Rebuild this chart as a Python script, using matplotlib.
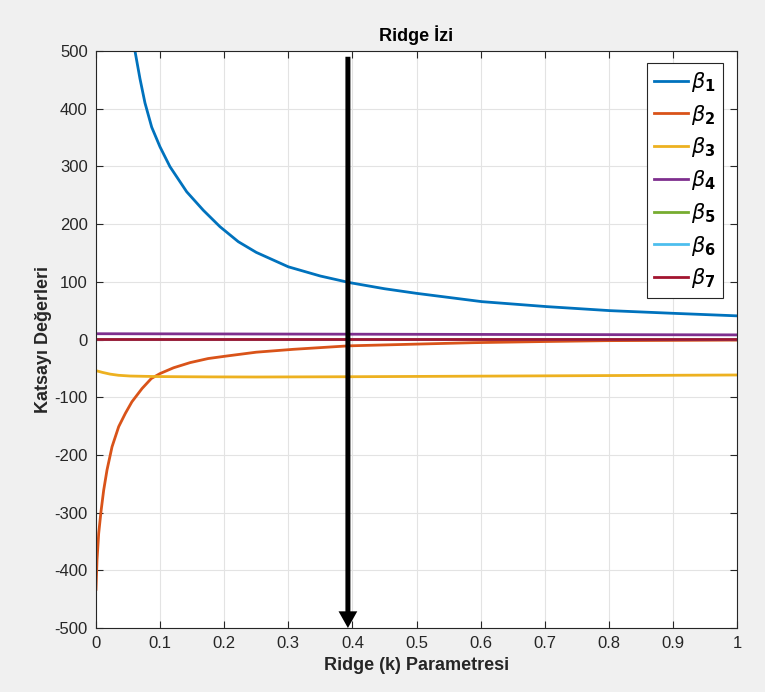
import matplotlib
matplotlib.use("Agg")
import matplotlib.pyplot as plt

plt.rcParams['font.family'] = ['Liberation Sans', 'DejaVu Sans']
plt.rcParams['mathtext.fontset'] = 'dejavusans'
plt.rcParams['axes.unicode_minus'] = False

# Data
k1 = [0.030, 0.040, 0.050, 0.0608, 0.0686, 0.0764, 0.0869, 0.0998, 0.1154, 0.1415, 0.1674,
      0.1934, 0.222, 0.250, 0.300, 0.350, 0.396, 0.450, 0.500, 0.602, 0.703, 0.802, 0.900, 1.000]
beta1 = [1050, 800, 620, 500, 452, 410, 368, 334, 299.5, 256, 224,
         195.5, 169.5, 151, 126, 110, 98.5, 88, 80, 65.6, 57, 50, 45.4, 41]

k2 = [0.000, 0.0016, 0.0042, 0.0078, 0.012, 0.0172, 0.025, 0.0354, 0.0458, 0.056, 0.0718,
      0.0863, 0.100, 0.121, 0.147, 0.175, 0.204, 0.250, 0.308, 0.394, 0.500, 0.589, 0.700,
      0.797, 0.900, 1.000]
beta2 = [-433, -382, -336, -298, -261, -226, -186, -151, -128, -108, -85,
         -67.6, -59, -49, -40, -33, -28.6, -22, -17, -11, -8, -5.5, -3.5,
         -2, -1.5, -1]

k3 = [0.000, 0.010, 0.022, 0.035, 0.053, 0.075, 0.095, 0.130, 0.178, 0.250, 0.400, 0.600, 0.800, 1.000]
beta3 = [-54, -57, -60, -62, -63.3, -63.8, -64.2, -64.5, -64.8, -65, -64.5, -63.5, -62.5, -61.5]

k_flat = [0.0, 0.25, 0.5, 0.75, 1.0]
beta4 = [10, 9.5, 9, 8.5, 8]
beta5 = [0.5, 0.5, 0.5, 0.5, 0.5]
beta6 = [0.8, 0.8, 0.8, 0.8, 0.8]
beta7 = [1, 1, 1, 1, 1]

arrow_k = 0.393
arrow_top = 490

labels = [r'$\beta_{\mathbf{%d}}$' % i for i in range(1, 8)]
colors = ['#0072BD', '#D95319', '#EDB120', '#7E2F8E', '#77AC30', '#4DBEEE', '#A2142F']

fig = plt.figure(figsize=(7.65, 6.92), dpi=100, facecolor='#F0F0F0')
ax = fig.add_axes([96/765, 1-628/692, (737-96)/765, (628-51)/692])
ax.set_facecolor('white')

series = [(k1, beta1), (k2, beta2), (k3, beta3), (k_flat, beta4), (k_flat, beta5), (k_flat, beta6), (k_flat, beta7)]
for (kx, by), c, lab in zip(series, colors, labels):
    ax.plot(kx, by, color=c, lw=2, label=lab, solid_joinstyle='round')

ax.annotate('', xy=(arrow_k, -500), xytext=(arrow_k, arrow_top),
            arrowprops=dict(facecolor='black', edgecolor='none', width=3.6, headwidth=13.5,
                            headlength=12, shrink=0), zorder=5, annotation_clip=False)

ax.set_xlim(0, 1)
ax.set_ylim(-500, 500)
ax.set_xticks([i/10 for i in range(11)])
ax.set_xticklabels(['0'] + ['0.%d' % i for i in range(1, 10)] + ['1'])
ax.set_yticks(range(-500, 501, 100))
ax.grid(True, color='#E3E3E3', lw=0.8)
ax.set_axisbelow(True)
for s in ax.spines.values():
    s.set_color('#262626')
    s.set_linewidth(0.8)
ax.tick_params(direction='in', length=5, width=0.8, colors='#262626', labelsize=12,
               top=True, right=True, pad=6)

ax.set_title('Ridge İzi', fontsize=13, fontweight='bold', pad=7)
ax.set_xlabel('Ridge (k) Parametresi', fontsize=13, fontweight='bold', color='#262626', labelpad=4)
ax.set_ylabel('Katsayı Değerleri', fontsize=13, fontweight='bold', color='#262626', labelpad=2)

leg = ax.legend(loc='upper right', bbox_to_anchor=(0.978, 0.98), fontsize=15, fancybox=False,
                framealpha=1, edgecolor='#262626', handlelength=1.65, handletextpad=0.12,
                labelspacing=0.42, borderpad=0.35, borderaxespad=0)
leg.get_frame().set_linewidth(0.8)

fig.savefig('out.png', dpi=100, facecolor=fig.get_facecolor())
